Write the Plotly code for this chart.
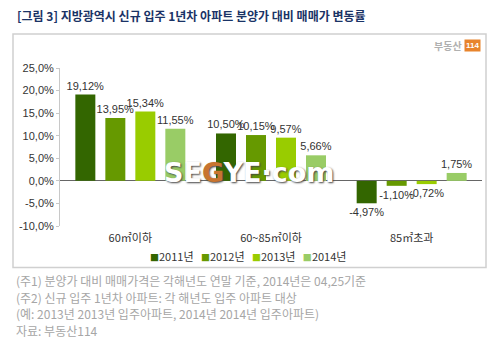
import plotly.graph_objects as go

categories = ["60㎡이하", "60~85㎡이하", "85㎡초과"]
years = ["2011년", "2012년", "2013년", "2014년"]
values = {
    "2011년": [19.12, 10.50, -4.97],
    "2012년": [13.95, 10.15, -1.10],
    "2013년": [15.34, 9.57, -0.72],
    "2014년": [11.55, 5.66, 1.75],
}
colors = ["#336600", "#669900", "#99cc00", "#99cc66"]
y_ticks = [-10, -5, 0, 5, 10, 15, 20, 25]
y_ticktext = ["-10,0%", "-5,0%", "0,0%", "5,0%", "10,0%", "15,0%", "20,0%", "25,0%"]

title_text = "[그림 3] 지방광역시 신규 입주 1년차 아파트 분양가 대비 매매가 변동률"
notes = [
    "(주1) 분양가 대비 매매가격은 각해년도 연말 기준, 2014년은 04,25기준",
    "(주2) 신규 입주 1년차 아파트: 각 해년도 입주 아파트 대상",
    "(예: 2013년 2013년 입주아파트, 2014년 2014년 입주아파트)",
    "자료: 부동산114",
]

W, H = 500, 346
L, R, T, B = 60, 482, 68, 225.7

def px(p):
    return (p - L) / (R - L)

def py(p):
    return (B - p) / (B - T)

FONT = "Noto Sans CJK KR"
fig = go.Figure()
for yr, c in zip(years, colors):
    fig.add_trace(go.Bar(
        x=categories, y=values[yr], name=yr, marker_color=c,
        marker_line_width=0,
        texttemplate="%{y:.2f}%", textposition="outside",
        textfont=dict(size=11, color="#333333", family="Liberation Sans"),
        constraintext="none", cliponaxis=False, showlegend=False,
    ))

annotations = []
annotations.append(dict(text="<b>" + title_text + "</b>", x=px(15), y=py(16),
                        xref="paper", yref="paper", xanchor="left", yanchor="middle",
                        showarrow=False, font=dict(size=12, color="#1a3366", family=FONT)))
for i, n in enumerate(notes):
    annotations.append(dict(text=n, x=px(14), y=py(280 + i * 16.6),
                            xref="paper", yref="paper", xanchor="left", yanchor="middle",
                            showarrow=False, font=dict(size=12, color="#a6a6a6", family=FONT)))
legend_html = "   ".join(
    f"<span style='color:{c};font-size:9px'>■</span>{yr}" for yr, c in zip(years, colors))
annotations.append(dict(text=legend_html, x=px(248), y=py(256), xref="paper", yref="paper",
                        xanchor="center", yanchor="middle", showarrow=False,
                        font=dict(size=11, color="#333333", family=FONT)))
annotations.append(dict(text="<b>부동산</b>", x=px(464), y=py(46), xref="paper", yref="paper",
                        xanchor="right", yanchor="middle", showarrow=False,
                        font=dict(size=10, color="#b0b0b0", family=FONT)))
annotations.append(dict(text="<b>114</b>", x=px(472), y=py(46), xref="paper", yref="paper",
                        xanchor="center", yanchor="middle", showarrow=False,
                        bgcolor="#e8842c", borderpad=1,
                        font=dict(size=8, color="white", family="Liberation Sans")))
annotations.append(dict(text="SE<span style='color:#c8742f'>G</span>YE·com", x=px(249), y=py(172),
                        xref="paper", yref="paper", xanchor="center", yanchor="middle",
                        showarrow=False,
                        font=dict(size=27, color="white", family="DejaVu Sans", weight="bold",
                                  shadow="1px 1px 2px #444")))

fig.update_layout(
    width=W, height=H,
    margin=dict(l=L, r=W - R, t=T, b=H - B, pad=0),
    paper_bgcolor="white", plot_bgcolor="white",
    barmode="group", bargap=0.147, bargroupgap=1/3,
    separators=", ",
    annotations=annotations,
    shapes=[dict(type="rect", xref="paper", yref="paper",
                 x0=px(13), x1=px(486), y0=py(267), y1=py(34),
                 line=dict(color="#d0d0d0", width=1.5), layer="below")],
    font=dict(family=FONT, color="#333333"),
)
fig.update_xaxes(showline=False, ticks="", showgrid=False, ticklabelstandoff=4,
                 tickfont=dict(size=11, color="#333333", family=FONT))
fig.update_yaxes(range=[-10, 25], tickvals=y_ticks, ticktext=y_ticktext,
                 showgrid=False, showline=True, linecolor="#c8c8c8", linewidth=1,
                 ticks="outside", ticklen=3, tickcolor="#c8c8c8",
                 zeroline=True, zerolinecolor="#666666", zerolinewidth=1,
                 tickfont=dict(size=11, color="#333333", family="Liberation Sans"))

fig.write_html("out.html")
